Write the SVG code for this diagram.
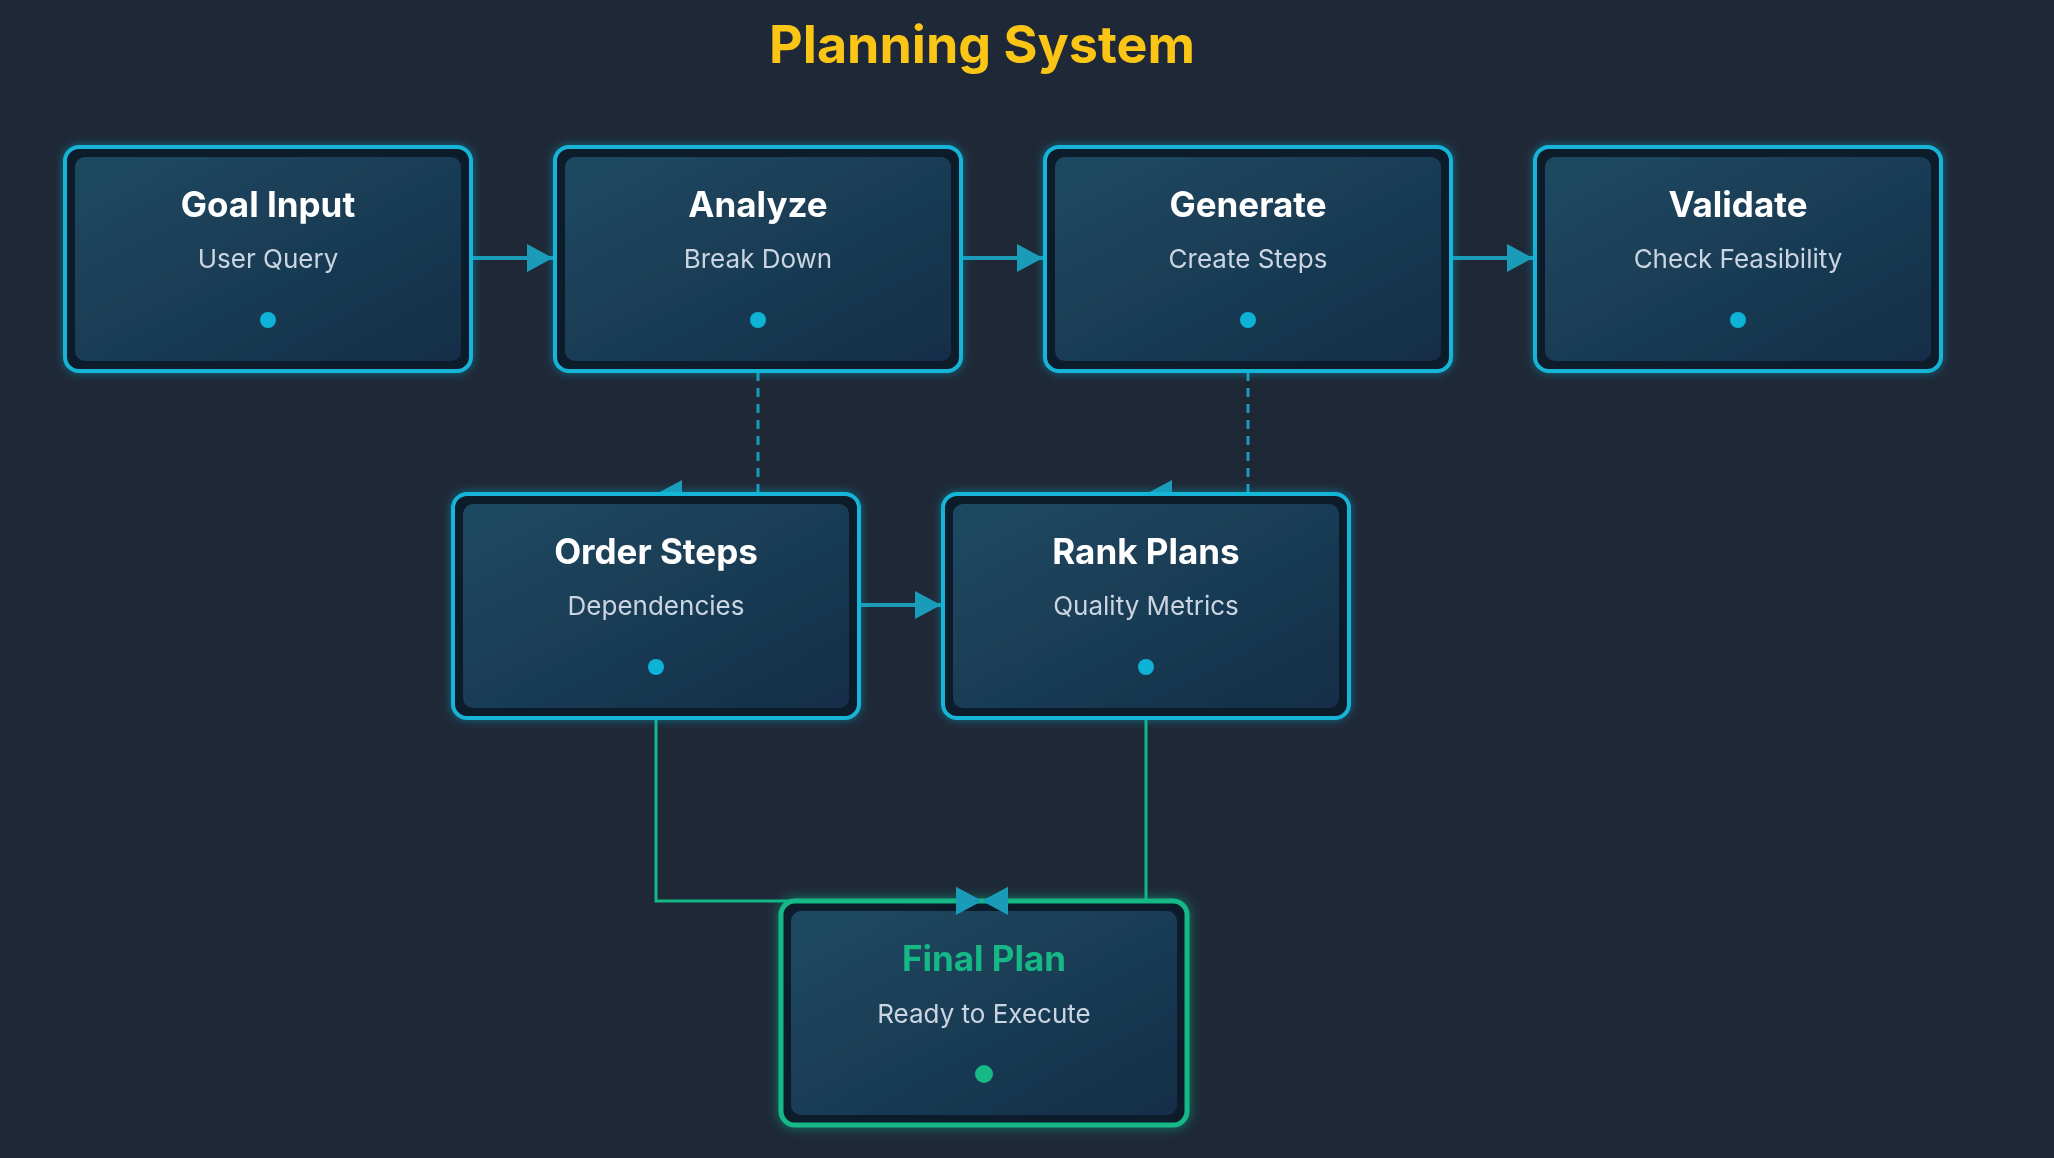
<svg xmlns="http://www.w3.org/2000/svg" width="2054" height="1158" viewBox="0 0 2054 1158">
<defs>
<style>
.bg{fill:#1f2837}
.outer{fill:#111b2b;stroke:#16b4d6;stroke-width:4}
.outerG{fill:#111b2b;stroke:#12b886;stroke-width:5}
.inner{fill:url(#g)}
.t{font-family:Inter,"Liberation Sans",sans-serif;font-weight:700;font-size:35px;fill:#fff;text-anchor:middle}
.s{font-family:Inter,"Liberation Sans",sans-serif;font-size:26px;fill:#cbd5e1;text-anchor:middle}
.dot{fill:#0fb2d6}
.c{fill:none;stroke:#1a9cb8;stroke-width:4}
.d{fill:none;stroke:#1a9cb8;stroke-width:3;stroke-dasharray:9 7}
.gl{fill:none;stroke:#12b886;stroke-width:3}
</style>
<linearGradient id="g" x1="0" y1="0" x2="1" y2="1">
<stop offset="0" stop-color="#1f4a62"/><stop offset="1" stop-color="#142e48"/>
</linearGradient>
<filter id="glow" x="-10%" y="-10%" width="120%" height="120%">
<feGaussianBlur in="SourceAlpha" stdDeviation="5" result="b"/>
<feFlood flood-color="#16b4d6" flood-opacity="0.5"/><feComposite in2="b" operator="in" result="c"/>
<feMerge><feMergeNode in="c"/><feMergeNode in="SourceGraphic"/></feMerge>
</filter>
<filter id="glowG" x="-10%" y="-10%" width="120%" height="120%">
<feGaussianBlur in="SourceAlpha" stdDeviation="6" result="b"/>
<feFlood flood-color="#12b886" flood-opacity="0.6"/><feComposite in2="b" operator="in" result="c"/>
<feMerge><feMergeNode in="c"/><feMergeNode in="SourceGraphic"/></feMerge>
</filter>
<marker id="a" markerWidth="26" markerHeight="28" refX="26" refY="14" orient="auto" markerUnits="userSpaceOnUse">
<path d="M0,0 L26,14 L0,28 Z" fill="#1a9cb8"/>
</marker>
</defs>
<rect class="bg" width="2054" height="1158"/>
<text x="982" y="63" font-family="Inter,'Liberation Sans',sans-serif" font-weight="700" font-size="52" fill="#fac515" text-anchor="middle">Planning System</text>

<g id="connectors">
<path class="c" d="M472,258 H553" marker-end="url(#a)"/>
<path class="c" d="M961,258 H1043" marker-end="url(#a)"/>
<path class="c" d="M1451,258 H1533" marker-end="url(#a)"/>
<path class="d" d="M758,372 V494 H656" marker-end="url(#a)"/>
<path class="d" d="M1248,372 V494 H1146" marker-end="url(#a)"/>
<path class="c" d="M859,605 H941" marker-end="url(#a)"/>
<path class="gl" d="M656,718 V901 H982" marker-end="url(#a)"/>
<path class="gl" d="M1146,718 V901 H982" marker-end="url(#a)"/>
</g>

<g id="goal" filter="url(#glow)">
<rect class="outer" x="65" y="147" width="406" height="224" rx="14"/>
<rect class="inner" x="75" y="157" width="386" height="204" rx="10"/>
<text class="t" x="268" y="217">Goal Input</text><text class="s" x="268" y="268">User Query</text><circle class="dot" cx="268" cy="320" r="8"/>
</g>
<g id="analyze" filter="url(#glow)">
<rect class="outer" x="555" y="147" width="406" height="224" rx="14"/>
<rect class="inner" x="565" y="157" width="386" height="204" rx="10"/>
<text class="t" x="758" y="217">Analyze</text><text class="s" x="758" y="268">Break Down</text><circle class="dot" cx="758" cy="320" r="8"/>
</g>
<g id="generate" filter="url(#glow)">
<rect class="outer" x="1045" y="147" width="406" height="224" rx="14"/>
<rect class="inner" x="1055" y="157" width="386" height="204" rx="10"/>
<text class="t" x="1248" y="217">Generate</text><text class="s" x="1248" y="268">Create Steps</text><circle class="dot" cx="1248" cy="320" r="8"/>
</g>
<g id="validate" filter="url(#glow)">
<rect class="outer" x="1535" y="147" width="406" height="224" rx="14"/>
<rect class="inner" x="1545" y="157" width="386" height="204" rx="10"/>
<text class="t" x="1738" y="217">Validate</text><text class="s" x="1738" y="268">Check Feasibility</text><circle class="dot" cx="1738" cy="320" r="8"/>
</g>
<g id="order" filter="url(#glow)">
<rect class="outer" x="453" y="494" width="406" height="224" rx="14"/>
<rect class="inner" x="463" y="504" width="386" height="204" rx="10"/>
<text class="t" x="656" y="564">Order Steps</text><text class="s" x="656" y="615">Dependencies</text><circle class="dot" cx="656" cy="667" r="8"/>
</g>
<g id="rank" filter="url(#glow)">
<rect class="outer" x="943" y="494" width="406" height="224" rx="14"/>
<rect class="inner" x="953" y="504" width="386" height="204" rx="10"/>
<text class="t" x="1146" y="564">Rank Plans</text><text class="s" x="1146" y="615">Quality Metrics</text><circle class="dot" cx="1146" cy="667" r="8"/>
</g>
<g id="final" filter="url(#glowG)">
<rect class="outerG" x="781" y="901" width="406" height="224" rx="14"/>
<rect class="inner" x="791" y="911" width="386" height="204" rx="10"/>
<text class="t" x="984" y="971" fill="#12b886" style="fill:#12b886">Final Plan</text><text class="s" x="984" y="1023">Ready to Execute</text><circle cx="984" cy="1074" r="9" fill="#12b886"/>
</g>
<path d="M956,887 L982,901 L956,915 Z M1008,887 L982,901 L1008,915 Z" fill="#1a9cb8"/>
</svg>
